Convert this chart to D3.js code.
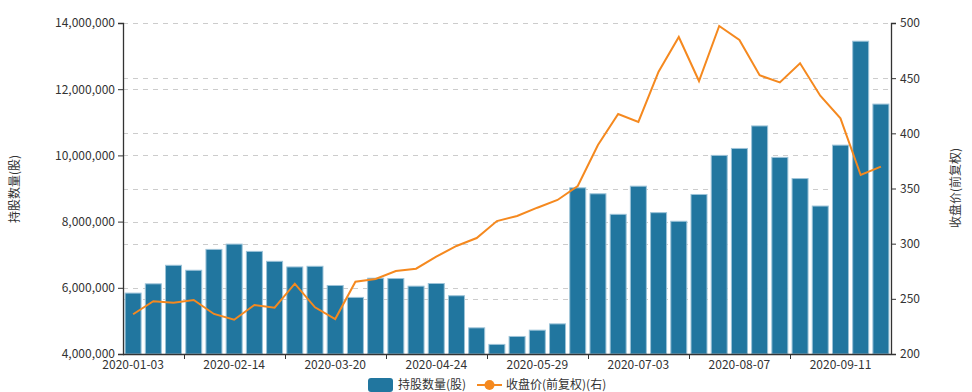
<!DOCTYPE html>
<html><head><meta charset="utf-8">
<script src="https://cdn.jsdelivr.net/npm/d3@7"></script>
<style>
html,body{margin:0;padding:0;background:#fff;}
text{font-family:"Microsoft YaHei","Noto Sans CJK SC",sans-serif;}
</style></head>
<body><svg id="chart" width="972" height="392"></svg>
<script>
const dates = ["2020-01-03","2020-01-10","2020-01-17","2020-01-23","2020-02-07","2020-02-14","2020-02-21","2020-02-28","2020-03-06","2020-03-13","2020-03-20","2020-03-27","2020-04-03","2020-04-10","2020-04-17","2020-04-24","2020-04-30","2020-05-08","2020-05-15","2020-05-22","2020-05-29","2020-06-05","2020-06-12","2020-06-19","2020-06-24","2020-07-03","2020-07-10","2020-07-17","2020-07-24","2020-07-31","2020-08-07","2020-08-14","2020-08-21","2020-08-28","2020-09-04","2020-09-11","2020-09-18","2020-09-25"];
const holdings = [5840000,6120000,6680000,6530000,7160000,7320000,7100000,6800000,6630000,6650000,6070000,5710000,6290000,6280000,6050000,6130000,5760000,4790000,4290000,4530000,4720000,4910000,9020000,8840000,8220000,9070000,8270000,8010000,8820000,10000000,10210000,10890000,9940000,9300000,8470000,10310000,13450000,11550000];
const prices = [236.0,247.8,246.5,248.9,236.3,231.1,244.4,242.0,263.7,242.3,231.7,265.5,268.0,275.2,277.3,288.2,297.9,305.1,320.5,325.1,332.6,339.6,352.3,389.4,417.5,410.3,455.9,487.3,447.4,497.3,484.6,452.6,446.2,463.5,434.1,413.6,362.2,369.8];
const leftTicks = [4000000,6000000,8000000,10000000,12000000,14000000];
const rightTicks = [200,250,300,350,400,450,500];
const seriesNames = ["持股数量(股)","收盘价(前复权)(右)"];
const axisNames = ["持股数量(股)","收盘价(前复权)"];

const svg = d3.select("#chart");
const L = 123, R = 891, T = 23, B = 354;
const x = d3.scaleBand().domain(dates).range([L, R]).paddingInner(0).paddingOuter(0);
const yL = d3.scaleLinear().domain([4000000, 14000000]).range([B, T]);
const yR = d3.scaleLinear().domain([200, 500]).range([B, T]);
const barColor = "#21769f", lineColor = "#f5891f", txt = "#333";

// grid lines
const grid = svg.append("g");
leftTicks.slice(1).forEach(v => grid.append("line").attr("x1", L).attr("x2", R).attr("y1", Math.round(yL(v))+0.5).attr("y2", Math.round(yL(v))+0.5)
  .attr("stroke", "#ccc").attr("stroke-dasharray", "5,5"));
rightTicks.slice(1).forEach(v => grid.append("line").attr("x1", L).attr("x2", R).attr("y1", Math.round(yR(v))+0.5).attr("y2", Math.round(yR(v))+0.5)
  .attr("stroke", "#ccc").attr("stroke-dasharray", "5,5"));

// bars
const bw = 16;
svg.append("g").selectAll("rect").data(holdings).join("rect")
  .attr("x", (d,i) => x(dates[i]) + (x.bandwidth()-bw)/2)
  .attr("y", d => yL(d))
  .attr("width", bw)
  .attr("height", d => B - yL(d))
  .attr("fill", barColor)
  .attr("stroke", "#9cc3d8").attr("stroke-width", 1);

// line
const line = d3.line().x((d,i) => x(dates[i]) + x.bandwidth()/2).y(d => yR(d));
svg.append("path").datum(prices).attr("d", line).attr("fill", "none").attr("stroke", lineColor).attr("stroke-width", 2).attr("stroke-linejoin","miter");

// axes
const fmt = d3.format(",");
const gl = svg.append("g").attr("transform", `translate(${L},0)`).call(d3.axisLeft(yL).tickValues(leftTicks).tickFormat(fmt).tickSize(5).tickPadding(3));
const gr = svg.append("g").attr("transform", `translate(${R},0)`).call(d3.axisRight(yR).tickValues(rightTicks).tickSize(5).tickPadding(4));
const labelIdx = [0,5,10,15,20,25,30,35];
const gx = svg.append("g").attr("transform", `translate(0,${B})`).call(d3.axisBottom(x).tickValues(labelIdx.map(i=>dates[i])).tickSize(0).tickPadding(6));
[gl, gr, gx].forEach(g => {
  g.select(".domain").attr("stroke", "#333").attr("stroke-width", 1.3);
  g.selectAll(".tick line").attr("stroke", "#333");
  g.selectAll("text").attr("fill", txt).attr("font-size", 12).attr("font-family", "'Microsoft YaHei','Noto Sans CJK SC',sans-serif");
});
gx.select(".domain").attr("d", `M${L},0.5H${R}`);
// x ticks at boundaries
[3,8,13,18,23,28,33].forEach(i => {
  const xx = Math.round(x(dates[i])) + 0.5;
  gx.append("line").attr("x1", xx).attr("x2", xx).attr("y1", 0).attr("y2", 5).attr("stroke", "#333");
});

// axis names
svg.append("text").attr("transform", `translate(19,189) rotate(-90)`).attr("text-anchor","middle")
  .attr("font-size", 12).attr("fill", txt).text(axisNames[0]);
svg.append("text").attr("transform", `translate(960,188) rotate(-90)`).attr("text-anchor","middle")
  .attr("font-size", 12).attr("fill", txt).text(axisNames[1]);

// legend
const lg = svg.append("g");
lg.append("rect").attr("x", 368).attr("y", 378).attr("width", 25).attr("height", 14).attr("rx", 3).attr("fill", barColor);
lg.append("text").attr("x", 398).attr("y", 389).attr("font-size", 12).attr("fill", txt).text(seriesNames[0]);
lg.append("line").attr("x1", 477).attr("x2", 502).attr("y1", 385).attr("y2", 385).attr("stroke", lineColor).attr("stroke-width", 2);
lg.append("circle").attr("cx", 489.5).attr("cy", 385).attr("r", 5).attr("fill", lineColor);
lg.append("text").attr("x", 506).attr("y", 389).attr("font-size", 12).attr("fill", txt).text(seriesNames[1]);
</script></body></html>
